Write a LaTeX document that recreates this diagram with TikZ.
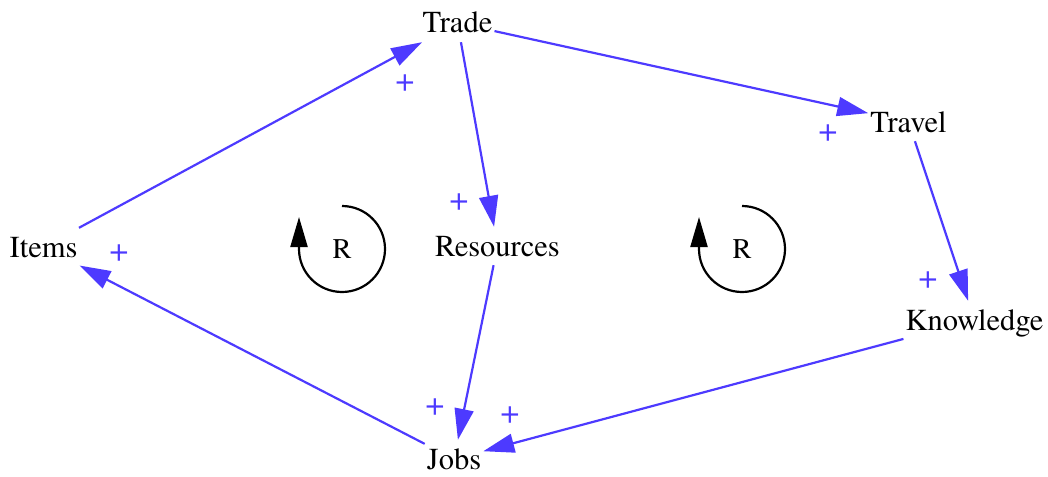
\documentclass[tikz,border=0pt]{standalone}
\usepackage{fontspec}
\setmainfont{TeX Gyre Termes}
\usetikzlibrary{arrows.meta}
\definecolor{edgeblue}{RGB}{77,58,255}
\begin{document}
\begin{tikzpicture}[x=1pt,y=-1pt,
  lbl/.style={inner xsep=2pt, inner ysep=9pt, text height=20pt, text depth=0pt, font=\rmfamily\fontsize{30.5}{35}\selectfont},
  pol/.style={text=edgeblue, font=\rmfamily\fontsize{34}{38}\selectfont, inner sep=0pt},
  edge/.style={draw=edgeblue, line width=2.2pt, -{Triangle[length=31pt,width=19pt]}},
  loopsym/.style={draw=black, line width=2.2pt, -{Triangle[length=30pt,width=17pt]}},
  rlabel/.style={font=\rmfamily\fontsize{28.5}{32}\selectfont, inner sep=0pt}]
\useasboundingbox (0,0) rectangle (1048,476);

% variables
\node[lbl] (Trade) at (457.5,23) {Trade};
\node[lbl] (Travel) at (908.5,122) {Travel};
\node[lbl] (Items) at (43.5,247) {Items};
\node[lbl] (Resources) at (497.5,246) {Resources};
\node[lbl] (Knowledge) at (974.5,320) {Knowledge};
\node[lbl] (Jobs) at (454,459) {Jobs};

% links
\draw[edge] (Items) -- (Trade);
\draw[edge] (Trade) -- (Travel);
\draw[edge] (Trade) -- (Resources);
\draw[edge] (Travel) -- (Knowledge);
\draw[edge] (Knowledge) -- (Jobs);
\draw[edge] (Resources) -- (Jobs);
\draw[edge] (Jobs) -- (Items);

% polarities
\node[pol] (p1) at (405,83) {+};
\node[pol] (p2) at (459,202) {+};
\node[pol] (p3) at (828,133) {+};
\node[pol] (p4) at (119,253) {+};
\node[pol] (p5) at (928,280) {+};
\node[pol] (p6) at (435,407) {+};
\node[pol] (p7) at (510,415) {+};

% loop symbols
\node[rlabel] (R1) at (342,249) {R};
\node[rlabel] (R2) at (742,249) {R};
\draw[loopsym] ([yshift=43pt]R1.center) arc[start angle=-90, end angle=180, radius=43] -- ++(0,-32);
\draw[loopsym] ([yshift=43pt]R2.center) arc[start angle=-90, end angle=180, radius=43] -- ++(0,-32);
\end{tikzpicture}
\end{document}
